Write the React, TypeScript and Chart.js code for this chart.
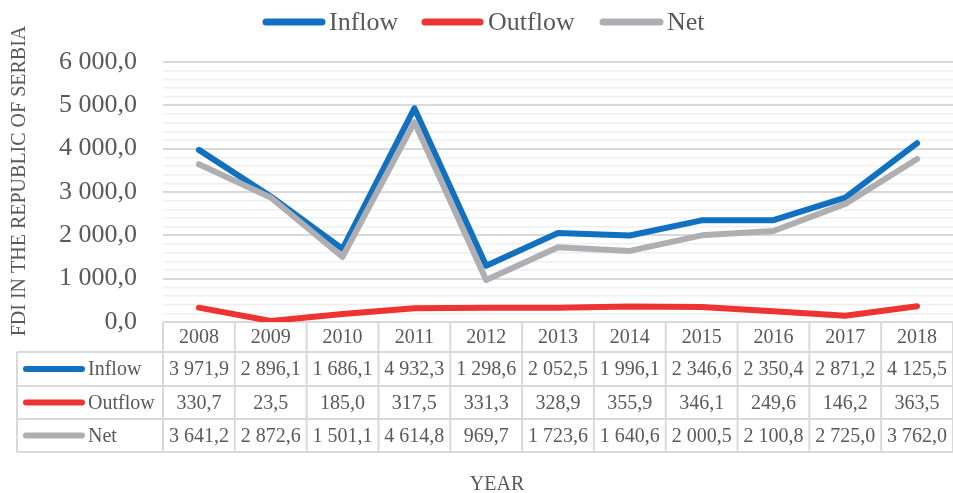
import React, { useEffect, useRef } from 'react';
import { Chart, registerables } from 'chart.js';

Chart.register(...registerables);

const years = ['2008', '2009', '2010', '2011', '2012', '2013', '2014', '2015', '2016', '2017', '2018'];
const inflow = [3971.9, 2896.1, 1686.1, 4932.3, 1298.6, 2052.5, 1996.1, 2346.6, 2350.4, 2871.2, 4125.5];
const outflow = [330.7, 23.5, 185.0, 317.5, 331.3, 328.9, 355.9, 346.1, 249.6, 146.2, 363.5];
const net = [3641.2, 2872.6, 1501.1, 4614.8, 969.7, 1723.6, 1640.6, 2000.5, 2100.8, 2725.0, 3762.0];
const seriesNames = ['Inflow', 'Outflow', 'Net'];
const seriesColors = ['#1170BF', '#EE3333', '#AFAFB3'];
const yMax = 6000;
const yMajor = 1000;
const yMinor = 200;
const yTitle = 'FDI IN THE REPUBLIC OF SERBIA';
const xTitle = 'YEAR';

const FONT = '"Liberation Serif", "Times New Roman", serif';
const TEXT = '#595959';
const BORDER = '#d9d9d9';

function fmt(v: number): string {
  const s = v.toFixed(1);
  const [i, d] = s.split('.');
  return i.replace(/\B(?=(\d{3})+(?!\d))/g, ' ') + ',' + d;
}

const seriesData = [inflow, outflow, net];

const tablePlugin = {
  id: 'dataTable',
  beforeDatasetsDraw(chart: any) {
    const ctx = chart.ctx as CanvasRenderingContext2D;
    const area = chart.chartArea;
    const xs = chart.scales.x;
    const n = years.length;
    const colW = (area.right - area.left) / n;
    const top = area.bottom;
    const edges = [0, 30, 64, 97, 130].map((e) => top + e);
    const tblLeft = 17;
    ctx.save();
    ctx.strokeStyle = BORDER;
    ctx.lineWidth = 2;
    // horizontal lines
    ctx.beginPath();
    ctx.moveTo(area.left, edges[0]);
    ctx.lineTo(area.right, edges[0]);
    for (let r = 1; r < edges.length; r++) {
      ctx.moveTo(tblLeft, edges[r]);
      ctx.lineTo(area.right, edges[r]);
    }
    // vertical lines
    ctx.moveTo(tblLeft, edges[1]);
    ctx.lineTo(tblLeft, edges[4]);
    for (let k = 0; k <= n; k++) {
      const x = area.left + k * colW;
      ctx.moveTo(x, edges[0]);
      ctx.lineTo(x, edges[4]);
    }
    ctx.stroke();

    ctx.fillStyle = TEXT;
    ctx.font = `20px ${FONT}`;
    ctx.textAlign = 'center';
    ctx.textBaseline = 'middle';
    years.forEach((y, i) => {
      ctx.fillText(y, xs.getPixelForValue(i), (edges[0] + edges[1]) / 2 + 1);
    });
    seriesData.forEach((arr, s) => {
      const cy = (edges[s + 1] + edges[s + 2]) / 2 + 1;
      arr.forEach((v, i) => {
        ctx.fillText(fmt(v), xs.getPixelForValue(i), cy);
      });
    });
    // row legend
    seriesNames.forEach((name, s) => {
      const cy = (edges[s + 1] + edges[s + 2]) / 2;
      ctx.strokeStyle = seriesColors[s];
      ctx.lineWidth = 6;
      ctx.lineCap = 'round';
      ctx.beginPath();
      ctx.moveTo(26, cy);
      ctx.lineTo(82, cy);
      ctx.stroke();
      ctx.fillStyle = TEXT;
      ctx.textAlign = 'left';
      ctx.fillText(name, 88, cy + 1);
    });
    ctx.restore();
  },
  afterDraw(chart: any) {
    const ctx = chart.ctx as CanvasRenderingContext2D;
    ctx.save();
    // top legend
    const legendPos = [
      { x0: 266, x1: 322, tx: 329 },
      { x0: 425, x1: 480, tx: 488 },
      { x0: 603, x1: 660, tx: 667 },
    ];
    const ly = 22;
    ctx.font = `26px ${FONT}`;
    ctx.textBaseline = 'middle';
    ctx.textAlign = 'left';
    seriesNames.forEach((name, s) => {
      const p = legendPos[s];
      ctx.strokeStyle = seriesColors[s];
      ctx.lineWidth = 7;
      ctx.lineCap = 'round';
      ctx.beginPath();
      ctx.moveTo(p.x0, ly);
      ctx.lineTo(p.x1, ly);
      ctx.stroke();
      ctx.fillStyle = TEXT;
      ctx.fillText(name, p.tx, ly + 1);
    });
    // axis titles
    ctx.font = `20px ${FONT}`;
    ctx.textAlign = 'center';
    ctx.fillStyle = TEXT;
    ctx.save();
    ctx.translate(20, 181);
    ctx.rotate(-Math.PI / 2);
    ctx.fillText(yTitle, 0, 0);
    ctx.restore();
    ctx.fillText(xTitle, 497, 485);
    ctx.restore();
  },
};

export default function App() {
  const ref = useRef<HTMLCanvasElement>(null);
  useEffect(() => {
    if (!ref.current) return;
    const chart = new Chart(ref.current, {
      type: 'line',
      data: {
        labels: years,
        datasets: seriesData.map((arr, s) => ({
          label: seriesNames[s],
          data: arr,
          borderColor: seriesColors[s],
          backgroundColor: seriesColors[s],
          borderWidth: 6,
          pointRadius: 0,
          tension: 0,
          borderCapStyle: 'round' as const,
          borderJoinStyle: 'round' as const,
          order: 3 - s,
        })),
      },
      options: {
        animation: false,
        responsive: false,
        layout: { padding: { left: 0, top: 62, right: -3, bottom: 171 } },
        plugins: { legend: { display: false }, tooltip: { enabled: false } },
        scales: {
          x: { type: 'category', display: false, offset: true },
          y: {
            min: 0,
            max: yMax,
            border: { display: false },
            grid: {
              drawTicks: false,
              color: (c: any) => (c.tick && c.tick.value % yMajor === 0 ? '#d9d9d9' : '#efefef'),
              lineWidth: (c: any) => (c.tick && c.tick.value % yMajor === 0 ? 2 : 1.5),
            },
            ticks: {
              stepSize: yMinor,
              autoSkip: false,
              padding: 26,
              color: TEXT,
              font: { family: FONT, size: 26 },
              callback: (v: any) => (Number(v) % yMajor === 0 ? fmt(Number(v)) : ''),
            },
            afterFit: (scale: any) => {
              scale.width = 163;
            },
          },
        },
      },
      plugins: [tablePlugin],
    });
    return () => chart.destroy();
  }, []);
  return (
    <div style={{ position: 'fixed', left: 0, top: 0, width: 953, height: 493, background: '#fff' }}>
      <canvas ref={ref} width={953} height={493} style={{ display: 'block' }} />
    </div>
  );
}
